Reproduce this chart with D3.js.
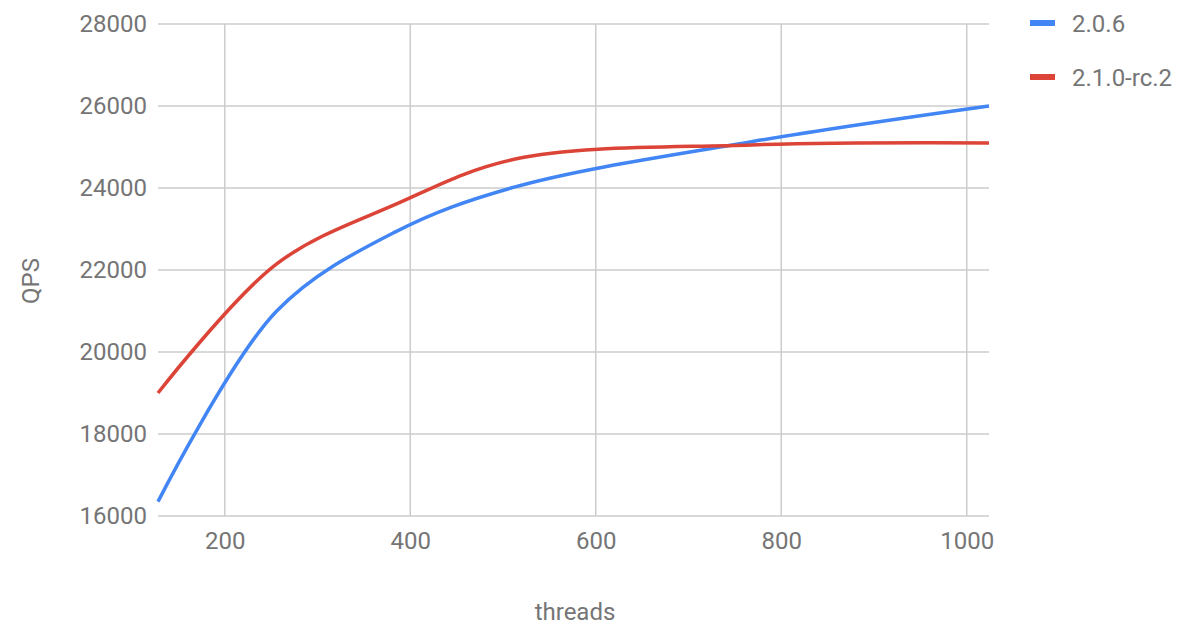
<!DOCTYPE html>
<html>
<head>
<meta charset="utf-8">
<script src="https://cdn.jsdelivr.net/npm/d3@7"></script>
<style>
  body { margin: 0; background: #fff; }
  text { font-family: Roboto, "Noto Sans", sans-serif; fill: #757575; }
</style>
</head>
<body>
<div id="chart"></div>
<script>
const width = 1183;
const height = 627;

// data
const threads = [128, 256, 384, 512, 768, 1024];
const qps_206 = [16350, 21000, 22930, 24020, 25130, 26000];
const qps_210 = [19000, 22150, 23600, 24700, 25050, 25100];
const seriesNames = ["2.0.6", "2.1.0-rc.2"];
const seriesColors = ["#4285f4", "#db4437"];
const xTicks = [200, 400, 600, 800, 1000];
const yTicks = [16000, 18000, 20000, 22000, 24000, 26000, 28000];

const svg = d3
  .select("#chart")
  .append("svg")
  .attr("width", width)
  .attr("height", height);

const x = d3.scaleLinear().domain([128, 1024]).range([158, 989]);
const y = d3.scaleLinear().domain([16000, 28000]).range([516, 24]);

// gridlines
svg
  .append("g")
  .selectAll("line")
  .data(yTicks)
  .enter()
  .append("line")
  .attr("x1", x.range()[0])
  .attr("x2", x.range()[1])
  .attr("y1", (d) => y(d))
  .attr("y2", (d) => y(d))
  .style("stroke", "#cccccc")
  .style("stroke-width", 1.5);

svg
  .append("g")
  .selectAll("line")
  .data(xTicks)
  .enter()
  .append("line")
  .attr("x1", (d) => x(d))
  .attr("x2", (d) => x(d))
  .attr("y1", y.range()[0])
  .attr("y2", y.range()[1])
  .style("stroke", "#cccccc")
  .style("stroke-width", 1.5);

// axes (labels only)
const yAxis = svg
  .append("g")
  .attr("transform", "translate(147,0)")
  .call(d3.axisLeft(y).tickValues(yTicks).tickSize(0).tickPadding(0).tickFormat(d3.format("d")));
yAxis.select(".domain").remove();
yAxis.selectAll("text").style("font-size", "24px").style("fill", "#757575");

const xAxis = svg
  .append("g")
  .attr("transform", `translate(0,${y.range()[0]})`)
  .call(d3.axisBottom(x).tickValues(xTicks).tickSize(0).tickPadding(16).tickFormat(d3.format("d")));
xAxis.select(".domain").remove();
xAxis.selectAll("text").style("font-size", "24px").style("fill", "#757575");

// axis titles
svg
  .append("text")
  .attr("x", 575)
  .attr("y", 620)
  .attr("text-anchor", "middle")
  .style("font-size", "24px")
  .text("threads");

svg
  .append("text")
  .attr("transform", "translate(39,281) rotate(-90)")
  .attr("text-anchor", "middle")
  .style("font-size", "24px")
  .text("QPS");

// lines
const line = d3
  .line()
  .x((d) => x(d[0]))
  .y((d) => y(d[1]))
  .curve(d3.curveCatmullRom.alpha(0.5));

const series = [qps_206, qps_210];
series.forEach((vals, i) => {
  svg
    .append("path")
    .datum(threads.map((t, j) => [t, vals[j]]))
    .attr("fill", "none")
    .attr("stroke", seriesColors[i])
    .attr("stroke-width", 3.5)
    .attr("stroke-linejoin", "round")
    .attr("d", line);
});

// legend
const legend = svg
  .append("g")
  .selectAll("g")
  .data(seriesNames)
  .enter()
  .append("g")
  .attr("transform", (d, i) => `translate(1030,${23 + i * 54})`);

legend
  .append("line")
  .attr("x1", 0)
  .attr("x2", 25)
  .style("stroke", (d, i) => seriesColors[i])
  .style("stroke-width", 6);

legend
  .append("text")
  .attr("x", 42)
  .attr("dy", "0.36em")
  .style("font-size", "24px")
  .text((d) => d);
</script>
</body>
</html>
